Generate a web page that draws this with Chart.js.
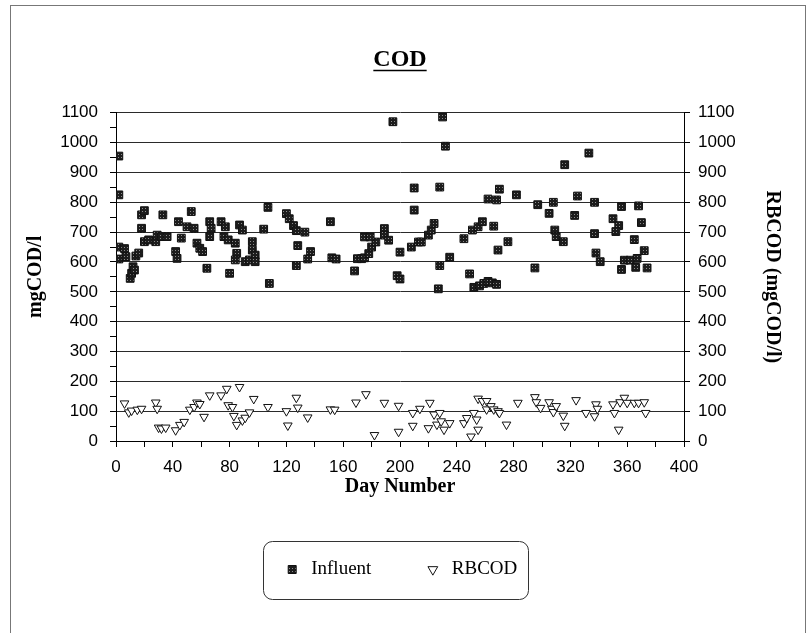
<!DOCTYPE html>
<html>
<head>
<meta charset="utf-8">
<title>COD</title>
<script src="https://cdn.jsdelivr.net/npm/chart.js@4.4.1/dist/chart.umd.min.js"></script>
<style>
  html, body { margin: 0; padding: 0; background: #fff; }
  canvas { display: block; }
</style>
</head>
<body>
<canvas id="cod" width="812" height="633"></canvas>
<script>
// Influent COD, mgCOD/l, by day number
var influentDays = [
  2, 2, 2, 6, 2, 7, 10, 11, 12, 13,
  14, 16, 18, 20, 18, 20, 23, 28, 29, 32,
  36, 33, 42, 43, 44, 46, 50, 53, 55, 57,
  59, 61, 64, 66, 67, 66, 74, 77, 76, 79,
  80, 84, 85, 84, 87, 89, 91, 94, 96, 96,
  98, 98, 104, 107, 108, 120, 122, 125, 127, 133,
  128, 137, 135, 127, 151, 152, 155, 168, 170, 173,
  175, 178, 180, 183, 175, 179, 189, 189, 192, 195,
  200, 198, 200, 208, 213, 215, 220, 222, 224, 210,
  210, 228, 230, 232, 228, 235, 227, 245, 251, 255,
  258, 266, 269, 249, 252, 256, 259, 262, 265, 268,
  262, 268, 270, 276, 282, 295, 297, 305, 308, 309,
  310, 315, 316, 323, 325, 333, 337, 337, 338, 341,
  350, 354, 352, 356, 365, 368, 370, 372, 367, 358,
  362, 356, 366, 374
];
var influentCOD = [
  955, 825, 650, 645, 610, 618, 545, 562, 584, 573,
  620, 630, 758, 772, 713, 668, 674, 668, 690, 685,
  685, 758, 635, 612, 735, 680, 718, 769, 713, 663,
  646, 635, 579, 735, 713, 685, 735, 718, 685, 674,
  562, 663, 629, 607, 724, 707, 601, 607, 668, 640,
  623, 601, 710, 783, 528, 762, 745, 722, 705, 700,
  655, 635, 610, 588, 735, 614, 610, 570, 611, 611,
  614, 628, 650, 667, 684, 684, 712, 690, 673, 1070,
  633, 554, 543, 650, 667, 667, 690, 707, 729, 848,
  774, 851, 1086, 988, 588, 616, 510, 678, 707, 718,
  735, 720, 640, 560, 515, 520, 528, 535, 530, 525,
  811, 808, 844, 668, 825, 580, 792, 763, 800, 707,
  685, 668, 926, 756, 821, 965, 800, 695, 630, 601,
  745, 722, 702, 786, 675, 788, 732, 638, 612, 606,
  606, 575, 582, 580
];

// RBCOD, mgCOD/l, by day number
var rbcodDays = [
  6, 9, 11, 15, 18, 28, 29, 30, 32, 35,
  42, 45, 48, 52, 55, 57, 59, 62, 66, 74,
  78, 79, 82, 83, 85, 87, 89, 91, 94, 97,
  107, 120, 121, 127, 128, 135, 151, 154, 169, 176,
  182, 189, 199, 199, 209, 209, 214, 221, 220, 224,
  226, 228, 229, 231, 235, 245, 247, 250, 252, 254,
  255, 255, 258, 261, 261, 264, 266, 269, 270, 275,
  283, 295, 296, 299, 305, 307, 308, 310, 315, 316,
  324, 331, 337, 338, 339, 350, 351, 354, 355, 358,
  360, 365, 368, 372, 373
];
var rbcodCOD = [
  126, 96, 102, 105, 108, 129, 108, 45, 42, 45,
  36, 54, 64, 105, 114, 129, 124, 81, 153, 153,
  175, 120, 114, 84, 54, 181, 69, 78, 96, 141,
  114, 100, 52, 145, 112, 79, 106, 105, 129, 157,
  20, 128, 118, 31, 94, 51, 108, 128, 43, 89,
  55, 94, 66, 38, 60, 60, 77, 15, 94, 72,
  38, 142, 134, 134, 106, 117, 106, 100, 94, 55,
  128, 147, 130, 111, 130, 108, 97, 117, 85, 51,
  137, 94, 83, 123, 108, 123, 94, 38, 130, 145,
  128, 128, 128, 130, 94
];

var seriesNames = ['Influent', 'RBCOD'];

function toPoints(xs, ys) {
  return xs.map(function (x, i) { return { x: x, y: ys[i] }; });
}

var serif = 'Liberation Serif, Times New Roman, serif';
var sans = 'Liberation Sans, Arial, sans-serif';

var canvas = document.getElementById('cod');
var ctx = canvas.getContext('2d');

// speckled dark fill like the scanned square markers
var tile = document.createElement('canvas');
tile.width = 3; tile.height = 3;
var tc = tile.getContext('2d');
tc.fillStyle = '#1c1c1c'; tc.fillRect(0, 0, 3, 3);
tc.fillStyle = '#8c8c8c'; tc.fillRect(1, 1, 1, 1);
var squareFill = ctx.createPattern(tile, 'repeat');

var pagePlugin = {
  id: 'page',
  beforeDraw: function (chart) {
    var c = chart.ctx;
    c.save();
    c.fillStyle = '#fff';
    c.fillRect(0, 0, chart.width, chart.height);
    c.strokeStyle = '#777';
    c.lineWidth = 1;
    c.strokeRect(10.5, 5.5, 795, 700);
    c.restore();
  },
  afterDraw: function (chart) {
    var c = chart.ctx;
    c.save();
    // underline the title
    var tb = chart.titleBlock;
    if (tb) {
      c.font = 'bold 24px ' + serif;
      var w = c.measureText('COD').width;
      var cx = (tb.left + tb.right) / 2;
      var cy = tb.top + 31 + 24 * 1.2 / 2;
      c.strokeStyle = '#000';
      c.lineWidth = 1.5;
      c.beginPath();
      c.moveTo(cx - w / 2, cy + 11);
      c.lineTo(cx + w / 2, cy + 11);
      c.stroke();
    }
    // rounded frame around the legend
    var boxes = chart.legend && chart.legend.legendHitBoxes;
    if (boxes && boxes.length) {
      var l = Infinity, r = -Infinity, mid = 0;
      boxes.forEach(function (b) {
        l = Math.min(l, b.left);
        r = Math.max(r, b.left + b.width);
        mid = b.top + b.height / 2;
      });
      c.strokeStyle = '#333';
      c.lineWidth = 1;
      c.beginPath();
      c.roundRect(Math.round(l - 20) + 0.5, Math.round(mid - 29) + 0.5, Math.round(r - l + 30), 58, 9);
      c.stroke();
    }
    c.restore();
  }
};

new Chart(ctx, {
  type: 'scatter',
  data: {
    datasets: [{
      label: seriesNames[0],
      data: toPoints(influentDays, influentCOD),
      pointStyle: 'rect',
      pointRadius: 5.5,
      backgroundColor: squareFill,
      borderColor: '#111',
      borderWidth: 1
    }, {
      label: seriesNames[1],
      data: toPoints(rbcodDays, rbcodCOD),
      pointStyle: 'triangle',
      pointRotation: 180,
      pointRadius: 5,
      backgroundColor: '#fff',
      borderColor: '#111',
      borderWidth: 1
    }]
  },
  options: {
    responsive: false,
    animation: false,
    devicePixelRatio: 1,
    layout: { padding: { top: 14, bottom: 44, left: 0, right: 12 } },
    plugins: {
      title: {
        display: true,
        text: 'COD',
        color: '#000',
        font: { family: serif, size: 24, weight: 'bold' },
        padding: { top: 31, bottom: 39 }
      },
      legend: {
        position: 'bottom',
        labels: {
          usePointStyle: true,
          boxWidth: 19,
          boxHeight: 8,
          padding: 52,
          color: '#000',
          font: { family: serif, size: 19 }
        }
      },
      tooltip: { enabled: false }
    },
    scales: {
      x: {
        type: 'linear',
        position: 'bottom',
        min: 0,
        max: 400,
        afterFit: function (s) { s.height = 67; },
        ticks: {
          stepSize: 20,
          autoSkip: false,
          maxRotation: 0,
          padding: 10,
          color: '#000',
          font: { family: sans, size: 17 },
          callback: function (v) { return v % 40 === 0 ? String(v) : ''; }
        },
        grid: { drawOnChartArea: false, tickLength: 6, tickColor: '#000' },
        border: { color: '#000', width: 1 },
        title: {
          display: true,
          text: 'Day Number',
          color: '#000',
          font: { family: serif, size: 20, weight: 'bold' },
          padding: { top: 0, bottom: 9 }
        }
      },
      y: {
        position: 'left',
        min: 0,
        max: 1100,
        afterFit: function (s) { s.width = 116; },
        ticks: {
          stepSize: 50,
          autoSkip: false,
          padding: 12,
          color: '#000',
          font: { family: sans, size: 17 },
          callback: function (v) { return v % 100 === 0 ? String(v) : ''; }
        },
        grid: {
          color: function (c) { return c.tick && c.tick.value % 100 === 0 ? '#2a2a2a' : 'rgba(0,0,0,0)'; },
          tickColor: '#000',
          tickLength: 6,
          lineWidth: 1
        },
        border: { color: '#000', width: 1 },
        title: {
          display: true,
          text: 'mgCOD/l',
          color: '#000',
          font: { family: serif, size: 20, weight: 'bold' },
          padding: { top: 24, bottom: 0 }
        }
      },
      y2: {
        position: 'right',
        min: 0,
        max: 1100,
        afterFit: function (s) { s.width = 116; },
        ticks: {
          stepSize: 100,
          padding: 8,
          color: '#000',
          font: { family: sans, size: 17 },
          callback: function (v) { return String(v); }
        },
        grid: { drawOnChartArea: false, tickLength: 6, tickColor: '#000' },
        border: { color: '#000', width: 1 },
        title: {
          display: true,
          text: 'RBCOD (mgCOD/l)',
          color: '#000',
          font: { family: serif, size: 20, weight: 'bold' },
          padding: { top: 16, bottom: 0 }
        }
      }
    }
  },
  plugins: [pagePlugin]
});
</script>
</body>
</html>
